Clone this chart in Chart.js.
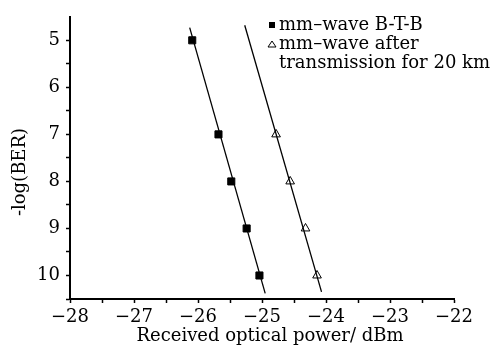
<!DOCTYPE html>
<html>
<head>
<meta charset="utf-8">
<script src="https://cdn.jsdelivr.net/npm/chart.js@4/dist/chart.umd.min.js"></script>
<style>
  html, body { margin: 0; padding: 0; background: #fff; }
  #wrap { width: 492px; height: 349px; }
</style>
</head>
<body>
<div id="wrap"><canvas id="c"></canvas></div>
<script>
// measured points, x = received power (dBm), y = -log(BER)
const btbPower   = [-26.09, -25.68, -25.48, -25.24, -25.04];
const btbBer     = [5, 7, 8, 9, 10];
const fiberPower = [-24.78, -24.56, -24.32, -24.14];
const fiberBer   = [7, 8, 9, 10];

// fitted lines, end points
const btbFitPower   = [-26.13, -24.95];
const btbFitBer     = [4.73, 10.38];
const fiberFitPower = [-25.27, -24.07];
const fiberFitBer   = [4.68, 10.35];

const legendLabels = ['mm\u2013wave B-T-B', 'mm\u2013wave after', 'transmission for 20 km'];
const xTitle = 'Received optical power/ dBm';
const yTitle = '-log(BER)';

const FONT = '"DejaVu Serif", serif';
const pts = (xs, ys) => xs.map((x, i) => ({ x, y: ys[i] }));

// legend + axis titles drawn by hand
const decorPlugin = {
    id: 'decor',
    afterDraw(chart) {
        const { ctx } = chart;
        ctx.save();
        ctx.fillStyle = '#000';
        ctx.strokeStyle = '#000';
        ctx.font = '18px ' + FONT;
        ctx.textBaseline = 'middle';
        ctx.textAlign = 'left';

        // legend
        ctx.fillRect(269, 22, 6, 6);
        ctx.fillText(legendLabels[0], 279, 25);
        ctx.lineWidth = 1;
        ctx.beginPath();
        ctx.moveTo(272, 41); ctx.lineTo(276, 47); ctx.lineTo(268, 47); ctx.closePath();
        ctx.stroke();
        ctx.fillText(legendLabels[1], 279, 44);
        ctx.fillText(legendLabels[2], 279, 63);

        // x title
        ctx.textAlign = 'center';
        ctx.fillText(xTitle, 270, 336);

        // y title
        ctx.translate(20, 172);
        ctx.rotate(-Math.PI / 2);
        ctx.fillText(yTitle, 0, 0);
        ctx.restore();
    }
};

const tickColor = c => (c.tick && (c.tick.value === 4.5)) ? 'rgba(0,0,0,0)' : '#000';

new Chart(document.getElementById('c').getContext('2d'), {
    type: 'scatter',
    plugins: [decorPlugin],
    data: {
        datasets: [
            {
                label: 'B-T-B fit', data: pts(btbFitPower, btbFitBer), showLine: true,
                borderColor: '#000', borderWidth: 1.3, pointRadius: 0
            },
            {
                label: '20 km fit', data: pts(fiberFitPower, fiberFitBer), showLine: true,
                borderColor: '#000', borderWidth: 1.3, pointRadius: 0
            },
            {
                label: legendLabels[0], data: pts(btbPower, btbBer),
                pointStyle: 'rect', pointRadius: 5, backgroundColor: '#000', borderColor: '#000', borderWidth: 1
            },
            {
                label: legendLabels[1], data: pts(fiberPower, fiberBer),
                pointStyle: 'triangle', pointRadius: 5, backgroundColor: '#fff', borderColor: '#000', borderWidth: 1
            }
        ]
    },
    options: {
        responsive: true,
        maintainAspectRatio: false,
        animation: false,
        layout: { padding: { top: 12, right: 38, left: 0, bottom: 0 } },
        plugins: { legend: { display: false }, tooltip: { enabled: false } },
        scales: {
            x: {
                type: 'linear', min: -28, max: -22,
                border: { color: '#000', width: 2 },
                grid: { drawOnChartArea: false, tickLength: 4, tickWidth: 1.5, tickColor: '#000' },
                ticks: {
                    stepSize: 0.5, color: '#000', padding: 4, maxRotation: 0, autoSkip: false,
                    font: { family: FONT, size: 18 },
                    callback: v => Number.isInteger(v) ? (v < 0 ? '\u2212' + Math.abs(v) : String(v)) : ''
                },
                afterFit(s) { s.height = 50; }
            },
            y: {
                type: 'linear', min: 4.5, max: 10.5, reverse: true,
                border: { color: '#000', width: 2 },
                grid: { drawOnChartArea: false, tickLength: 4, tickWidth: 1.5, tickColor: tickColor },
                ticks: {
                    stepSize: 0.5, color: '#000', padding: 6, autoSkip: false,
                    font: { family: FONT, size: 18 },
                    callback: v => Number.isInteger(v) ? String(v) : ''
                },
                afterFit(s) { s.width = 70; }
            }
        }
    }
});
</script>
</body>
</html>
